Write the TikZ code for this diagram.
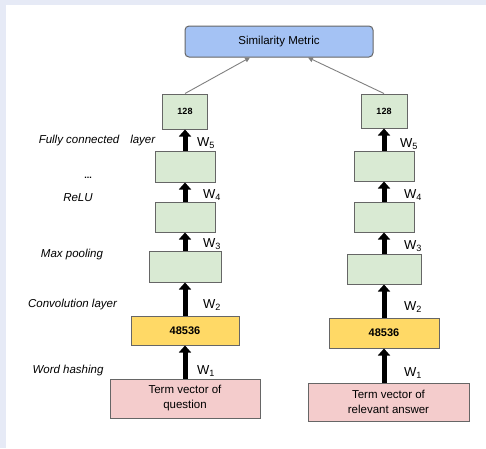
\documentclass[tikz,border=0pt]{standalone}
\usepackage{fontspec}
\setmainfont{Liberation Sans}
\usepackage{tikz}
\usetikzlibrary{arrows.meta,positioning}
\usepackage{xcolor}

\definecolor{boxgreen}{HTML}{D9EAD3}
\definecolor{boxyellow}{HTML}{FFD966}
\definecolor{boxpink}{HTML}{F4CCCC}
\definecolor{boxblue}{HTML}{A4C2F4}
\definecolor{edgegray}{HTML}{666666}
\definecolor{framebg}{HTML}{E6EAF6}

\begin{document}
\begin{tikzpicture}[x=1pt, y=-1pt,
    every node/.style={inner sep=0pt, text=black},
    layerbox/.style={rectangle, draw=edgegray, line width=1pt},
    greenbox/.style={layerbox, fill=boxgreen, font=\bfseries\fontsize{9}{10}\selectfont},
    yellowbox/.style={layerbox, fill=boxyellow, font=\bfseries\fontsize{11}{12}\selectfont},
    pinkbox/.style={layerbox, fill=boxpink, align=center, font=\fontsize{11.5}{15}\selectfont},
    metricbox/.style={layerbox, fill=boxblue, rounded corners=4pt, font=\fontsize{11.5}{13}\selectfont},
    layername/.style={font=\itshape\fontsize{11.5}{13}\selectfont},
    wlabel/.style={anchor=west, font=\fontsize{13}{14}\selectfont},
    blockarrow/.style={line width=5pt, -{Triangle[length=7pt,width=12pt]}},
    thinarrow/.style={draw=gray, line width=0.9pt, -{Triangle[length=5pt,width=5pt]}}
]

% ---- Fondo ----
\fill[framebg] (0,0) rectangle (486,448);
\fill[white] (6,5) rectangle (486,448);
\useasboundingbox (0,0) rectangle (486,448);

% ---- Metrica ----
\node[metricbox, minimum width=188pt, minimum height=31pt] (sim) at (279,41.5) {Similarity Metric};

% ---- Red izquierda (pregunta) ----
\node[greenbox, minimum width=45pt, minimum height=35pt] (outA) at (185,111.5) {128};
\node[greenbox, minimum width=60pt, minimum height=31pt] (fcA) at (185,166.5) {};
\node[greenbox, minimum width=60pt, minimum height=30pt] (reluA) at (185,217) {};
\node[greenbox, minimum width=72pt, minimum height=31pt] (poolA) at (185,266.5) {};
\node[yellowbox, minimum width=108pt, minimum height=29pt] (hashA) at (185,330.5) {48536};
\node[pinkbox, minimum width=150pt, minimum height=39pt] (termA) at (185,398.5) {Term vector of\\question};

% ---- Red derecha (respuesta) ----
\node[greenbox, minimum width=46pt, minimum height=34pt] (outB) at (384,111) {128};
\node[greenbox, minimum width=60pt, minimum height=30pt] (fcB) at (384,166) {};
\node[greenbox, minimum width=60pt, minimum height=30pt] (reluB) at (384,217) {};
\node[greenbox, minimum width=74pt, minimum height=30pt] (poolB) at (384,269) {};
\node[yellowbox, minimum width=110pt, minimum height=30pt] (hashB) at (384,333) {48536};
\node[pinkbox, minimum width=161pt, minimum height=38pt] (termB) at (388.5,402) {Term vector of\\relevant answer};

% ---- Nombres de capas ----
\node[layername] (nFC) at (97,141) {Fully connected\hspace{11pt}layer};
\node[font=\bfseries\fontsize{9}{9}\selectfont] (nDots) at (88,178) {...};
\node[layername] (nReLU) at (78,198) {ReLU};
\node[layername] (nPool) at (72,255) {Max pooling};
\node[layername] (nConv) at (72.5,305) {Convolution layer};
\node[layername] (nHash) at (68,371) {Word hashing};

% Aristas
\draw[blockarrow] (termA) -- (hashA);
\draw[blockarrow] (hashA) -- (poolA);
\draw[blockarrow] (poolA) -- (reluA);
\draw[blockarrow] (reluA) -- (fcA);
\draw[blockarrow] (fcA) -- (outA);

\draw[blockarrow] (termB.north -| hashB.south) -- (hashB);
\draw[blockarrow] (hashB) -- (poolB);
\draw[blockarrow] (poolB) -- (reluB);
\draw[blockarrow] (reluB) -- (fcB);
\draw[blockarrow] (fcB) -- (outB);

\draw[thinarrow] (outA.north) -- ([xshift=-29pt]sim.south);
\draw[thinarrow] (outB.north) -- ([xshift=29pt]sim.south);

% Pesos
\node[wlabel] (w1A) at (197,371) {W\textsubscript{1}};
\node[wlabel] (w2A) at (203,305) {W\textsubscript{2}};
\node[wlabel] (w3A) at (203,244) {W\textsubscript{3}};
\node[wlabel] (w4A) at (203,195) {W\textsubscript{4}};
\node[wlabel] (w5A) at (197,143) {W\textsubscript{5}};

\node[wlabel] (w1B) at (404,373) {W\textsubscript{1}};
\node[wlabel] (w2B) at (404,307) {W\textsubscript{2}};
\node[wlabel] (w3B) at (404,246) {W\textsubscript{3}};
\node[wlabel] (w4B) at (404,195) {W\textsubscript{4}};
\node[wlabel] (w5B) at (400,144) {W\textsubscript{5}};

\end{tikzpicture}
\end{document}
